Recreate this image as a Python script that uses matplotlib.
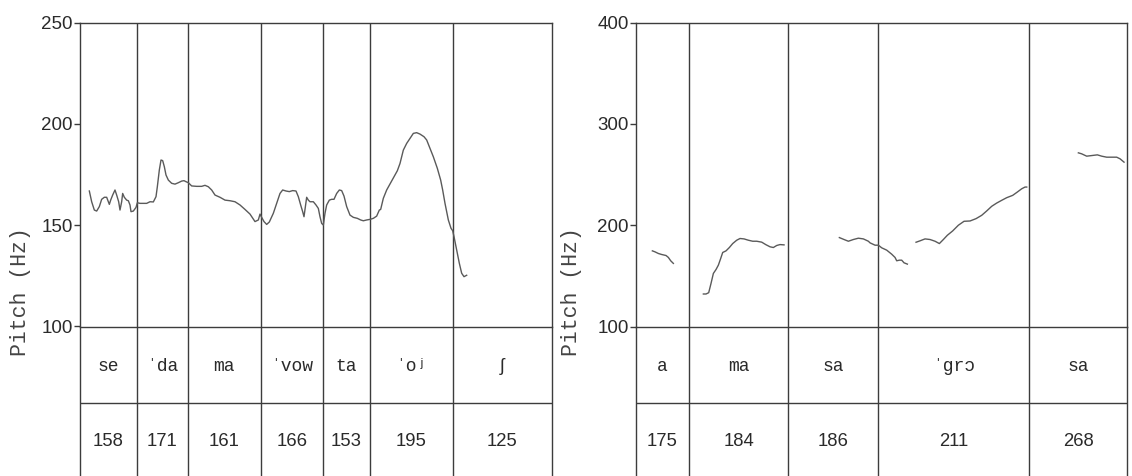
import matplotlib
matplotlib.use("Agg")
import matplotlib.pyplot as plt
import numpy as np

# ---- left utterance: syllable boundaries (ms), labels and mean pitch ----
left_bounds = [0, 171.6, 324.6, 543.6, 731.4, 870.0, 1119.6, 1416.6]
left_syll = ["se", "ˈda", "ma", "ˈvow", "ta", "ˈoʲ", "ʃ"]
left_mean = [158, 171, 161, 166, 153, 195, 125]

left_t = [29.5, 36.5, 44.5, 51.5, 59.5, 66.5, 74.5, 81.5, 89.5, 93.5, 99.5, 106.5,
          111.5, 117.5, 121.5, 126.5, 129.5, 134.5, 141.5, 146.5, 151.5, 154.5,
          161.5, 169.5, 173.5, 181.5, 201.5, 211.5, 221.5, 229.5, 233.5, 239.5,
          244.5, 249.5, 254.5, 259.5, 266.5, 276.5, 286.5, 296.5, 306.5, 313.5,
          319.5, 326.5, 336.5, 351.5, 366.5, 376.5, 386.5, 396.5, 406.5, 421.5,
          436.5, 451.5, 466.5, 481.5, 496.5, 511.5, 526.5, 536.5, 541.5, 546.5,
          553.5, 561.5, 569.5, 581.5, 591.5, 601.5, 609.5, 619.5, 629.5, 639.5,
          649.5, 656.5, 663.5, 669.5, 673.5, 677.5, 681.5, 686.5, 691.5, 701.5,
          709.5, 716.5, 721.5, 726.5, 731.5, 736.5, 741.5, 749.5, 756.5, 763.5,
          771.5, 779.5, 786.5, 793.5, 801.5, 811.5, 821.5, 833.5, 843.5, 851.5,
          861.5, 871.5, 881.5, 891.5, 899.5, 903.5, 911.5, 921.5, 933.5, 943.5,
          953.5, 961.5, 971.5, 981.5, 991.5, 1001.5, 1011.5, 1021.5, 1033.5,
          1041.5, 1051.5, 1061.5, 1073.5, 1083.5, 1089.5, 1096.5, 1106.5, 1114.5,
          1119.5, 1123.5, 1131.5, 1139.5, 1146.5, 1153.5, 1161.5]
left_hz = [166.9, 161.6, 157.5, 157.0, 159.2, 162.8, 163.8, 163.8, 160.3, 162.4,
           164.9, 167.4, 164.9, 161.6, 157.5, 161.6, 165.7, 163.8, 162.4, 162.1,
           160.0, 156.7, 157.0, 158.8, 161.1, 160.8, 160.8, 161.6, 161.5, 164.1,
           169.0, 177.3, 182.2, 181.9, 178.9, 174.8, 172.3, 170.7, 170.3, 171.0,
           171.8, 172.0, 171.5, 171.0, 169.4, 169.2, 169.2, 169.7, 169.0, 167.4,
           164.9, 163.8, 162.4, 162.1, 161.6, 160.0, 157.8, 155.5, 151.8, 152.6,
           155.5, 153.9, 151.8, 150.4, 151.6, 155.9, 160.8, 165.7, 167.4, 166.9,
           166.6, 167.1, 166.9, 164.1, 160.0, 156.7, 154.2, 159.2, 163.8, 162.4,
           161.6, 161.6, 160.0, 158.3, 154.2, 150.9, 150.1, 155.9, 160.0, 162.4,
           162.8, 162.8, 165.7, 167.4, 167.1, 164.4, 159.2, 155.0, 153.9, 153.4,
           152.6, 152.2, 152.6, 152.9, 153.4, 154.5, 157.5, 157.8, 163.3, 167.4,
           171.0, 174.0, 176.9, 180.5, 187.1, 190.4, 192.9, 195.35, 195.7, 195.0,
           193.7, 192.1, 188.0, 183.8, 178.1, 172.3, 167.4, 160.8, 152.6, 148.5,
           147.3, 144.4, 137.8, 131.2, 126.3, 124.6, 125.3]

# ---- right utterance ----
right_bounds = [0, 161, 458, 726, 1181, 1473]
right_syll = ["a", "ma", "sa", "ˈgrɔ", "sa"]
right_mean = [175, 184, 186, 211, 268]

right_t1 = [50, 58, 68, 78, 91, 98, 105, 113]
right_hz1 = [174.7, 173.7, 172.1, 171.1, 170.1, 168.2, 164.9, 162.3]

right_t2 = [203, 211, 219, 226, 233, 241, 248, 255, 261, 271, 281, 291, 303, 313,
            325, 338, 351, 363, 378, 390, 403, 413, 423, 433, 445]
right_hz2 = [132.1, 132.1, 133.4, 142.6, 152.4, 156.3, 160.6, 167.2, 173.1, 174.7,
             178.0, 181.9, 185.2, 186.9, 186.5, 185.2, 184.2, 184.2, 183.3, 180.9,
             178.7, 178.0, 180.0, 180.9, 180.6]

right_t3 = [611, 625, 638, 653, 668, 683, 698, 703, 718, 728, 738, 753, 768, 778,
            783, 791, 798, 805, 815]
right_hz3 = [187.8, 185.9, 184.2, 185.9, 187.2, 186.5, 184.2, 182.6, 180.3, 180.3,
             177.7, 175.4, 171.4, 168.2, 164.9, 165.5, 165.5, 162.9, 161.6]

right_t4 = [841, 853, 868, 883, 898, 911, 923, 935, 951, 968, 985, 1003, 1021, 1038,
            1053, 1068, 1083, 1098, 1113, 1131, 1145, 1158, 1168, 1173]
right_hz4 = [183.2, 184.6, 186.5, 185.9, 184.2, 181.9, 185.9, 190.1, 194.4, 200.0,
             203.9, 204.2, 206.5, 209.8, 214.1, 218.7, 221.9, 224.6, 227.2, 229.5,
             232.8, 236.0, 237.7, 237.7]

right_t5 = [1328, 1338, 1353, 1368, 1385, 1398, 1413, 1428, 1443, 1453, 1465]
right_hz5 = [271.5, 270.5, 268.2, 268.8, 269.5, 268.2, 267.2, 267.2, 267.2, 265.6, 262.3]

left_yticks = [100, 150, 200, 250]
right_yticks = [100, 200, 300, 400]

FRAME = "#3c3c3c"
CURVE = "#5a5a5a"
TEXT = "#2a2a2a"
LW = 1.0
MONO = ["Liberation Mono", "DejaVu Sans Mono"]
SANS = ["Liberation Sans", "DejaVu Sans"]

W, H = 1132, 476
fig = plt.figure(figsize=(W / 100, H / 100), dpi=100)
fig.patch.set_facecolor("white")


def panel(x0, x1, bounds, yticks, curves, sylls, means, label_x):
    top, base, bottom = 22.7, 326.5, 476.0
    divider = 403.0
    pa = fig.add_axes([x0 / W, (H - base) / H, (x1 - x0) / W, (base - top) / H])
    ta = fig.add_axes([x0 / W, 0.0, (x1 - x0) / W, (H - base) / H])
    xlim = (bounds[0], bounds[-1])
    for ax in (pa, ta):
        ax.set_xlim(*xlim)
        ax.set_facecolor("none")
        for s in ax.spines.values():
            s.set_color(FRAME)
            s.set_linewidth(LW)
    pa.set_ylim(yticks[0], yticks[-1])
    pa.set_yticks(yticks)
    pa.set_yticklabels([str(v) for v in yticks], family=SANS, fontsize=13.5,
                       color=TEXT)
    pa.set_xticks([])
    pa.tick_params(axis="y", direction="out", length=4, width=LW, color=FRAME, pad=1)
    pa.set_ylabel("Pitch (Hz)", family=MONO, fontsize=15.5, color="#444444",
                  va="center")
    pa.yaxis.set_label_coords((label_x - x0) / (x1 - x0), (base - 292.0) / (base - top))
    for b in bounds[1:-1]:
        pa.axvline(b, color=FRAME, lw=LW)
        ta.axvline(b, color=FRAME, lw=LW)
    for t, hz in curves:
        pa.plot(t, hz, color=CURVE, lw=1.0, solid_joinstyle="round")

    ta.set_ylim(0, 1)
    ta.set_xticks([])
    ta.set_yticks([])
    ta.spines["bottom"].set_visible(False)
    ta.spines["top"].set_visible(False)
    ta.axhline((bottom - divider) / (bottom - base), color=FRAME, lw=LW)
    ymid_lab = (bottom - 366.5) / (bottom - base)
    ymid_num = (bottom - 442.0) / (bottom - base)
    for i, (s, m) in enumerate(zip(sylls, means)):
        xc = 0.5 * (bounds[i] + bounds[i + 1])
        ta.text(xc, ymid_lab, s, ha="center", va="center", family=MONO,
                fontsize=13, color=TEXT)
        ta.text(xc, ymid_num, str(m), ha="center", va="center", family=SANS,
                fontsize=13.3, color=TEXT)
    return pa, ta


panel(79.5, 551.7, left_bounds, left_yticks, [(left_t, left_hz)],
      left_syll, left_mean, label_x=20.0)
panel(635.7, 1126.7, right_bounds, right_yticks,
      [(right_t1, right_hz1), (right_t2, right_hz2), (right_t3, right_hz3),
       (right_t4, right_hz4), (right_t5, right_hz5)],
      right_syll, right_mean, label_x=571.0)

fig.savefig("out.png", dpi=100, facecolor="white")
